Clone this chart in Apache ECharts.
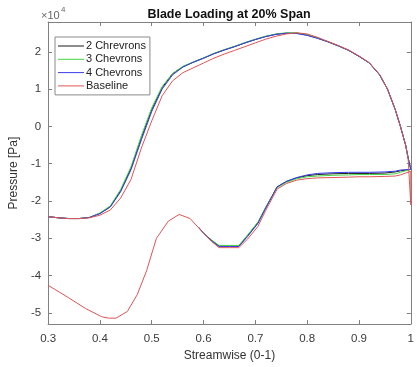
<!DOCTYPE html>
<html>
<head>
<meta charset="utf-8">
<script src="https://cdn.jsdelivr.net/npm/echarts@6/dist/echarts.min.js"></script>
<style>
html,body{margin:0;padding:0;background:#fff;}
#chart{width:417px;height:367px;}
</style>
</head>
<body>
<div id="chart"></div>
<script>
// Streamwise positions (upper branch, leading -> trailing edge)
const upperX = [0.30,0.32,0.34,0.36,0.38,0.40,0.42,0.44,0.46,0.48,0.50,0.52,0.54,0.56,0.58,0.60,0.62,0.64,0.66,0.68,0.70,0.72,0.74,0.76,0.78,0.80,0.82,0.84,0.86,0.88,0.90,0.92,0.94,0.955,0.97,0.98,0.99,0.995,1.00];
// Pressure (x10^4 Pa), upper branch
const chev2Upper = [-2.42,-2.45,-2.47,-2.47,-2.44,-2.33,-2.15,-1.72,-1.12,-0.30,0.45,1.04,1.41,1.60,1.72,1.83,1.95,2.05,2.14,2.24,2.33,2.41,2.47,2.50,2.50,2.45,2.37,2.27,2.16,2.04,1.88,1.70,1.38,1.00,0.45,0.00,-0.50,-0.85,-1.15];
const chev3Upper = [-2.42,-2.45,-2.47,-2.47,-2.44,-2.32,-2.13,-1.69,-1.08,-0.25,0.50,1.07,1.42,1.61,1.73,1.84,1.96,2.06,2.15,2.25,2.34,2.42,2.48,2.51,2.51,2.46,2.37,2.27,2.16,2.04,1.88,1.70,1.38,1.00,0.45,0.00,-0.50,-0.85,-1.15];
const chev4Upper = [-2.42,-2.45,-2.47,-2.47,-2.44,-2.34,-2.16,-1.75,-1.16,-0.36,0.40,1.00,1.38,1.59,1.72,1.83,1.95,2.05,2.14,2.24,2.33,2.41,2.47,2.50,2.49,2.44,2.36,2.27,2.16,2.04,1.88,1.70,1.38,1.00,0.45,0.00,-0.50,-0.85,-1.15];
const baseUpper  = [-2.42,-2.45,-2.47,-2.47,-2.45,-2.38,-2.24,-1.92,-1.42,-0.58,0.15,0.82,1.22,1.44,1.57,1.70,1.83,1.94,2.04,2.14,2.24,2.34,2.42,2.48,2.51,2.48,2.39,2.28,2.17,2.05,1.89,1.71,1.39,1.00,0.45,0.00,-0.50,-0.90,-2.10];

// Lower branch (trailing -> leading edge) for the chevron cases
const lowerX = [1.00,0.99,0.98,0.97,0.95,0.92,0.90,0.88,0.85,0.82,0.80,0.78,0.76,0.742,0.72,0.705,0.685,0.668,0.65,0.63,0.615,0.60,0.59];
const chev2Lower = [-1.15,-1.17,-1.19,-1.22,-1.25,-1.26,-1.26,-1.26,-1.27,-1.29,-1.32,-1.38,-1.48,-1.62,-2.18,-2.58,-2.93,-3.21,-3.21,-3.21,-3.05,-2.86,-2.70];
const chev3Lower = [-1.15,-1.19,-1.23,-1.27,-1.29,-1.29,-1.29,-1.30,-1.31,-1.33,-1.35,-1.40,-1.50,-1.64,-2.16,-2.56,-2.91,-3.19,-3.19,-3.19,-3.04,-2.86,-2.70];
const chev4Lower = [-1.15,-1.16,-1.17,-1.20,-1.22,-1.23,-1.23,-1.23,-1.24,-1.26,-1.30,-1.37,-1.47,-1.62,-2.19,-2.60,-2.95,-3.22,-3.22,-3.22,-3.06,-2.86,-2.70];

// Lower branch for the baseline
const baseLowerX = [1.00,0.99,0.98,0.97,0.95,0.92,0.90,0.88,0.85,0.82,0.80,0.78,0.76,0.742,0.72,0.705,0.685,0.668,0.65,0.63,0.615,0.60,0.574,0.553,0.532,0.509,0.49,0.472,0.453,0.431,0.416,0.403,0.372,0.338,0.30];
const baseLower  = [-1.20,-1.25,-1.30,-1.33,-1.34,-1.35,-1.35,-1.36,-1.37,-1.38,-1.40,-1.44,-1.53,-1.68,-2.25,-2.68,-3.02,-3.25,-3.25,-3.25,-3.08,-2.86,-2.47,-2.36,-2.54,-3.00,-3.87,-4.51,-4.96,-5.14,-5.14,-5.10,-4.88,-4.58,-4.26];

const seriesNames = ['2 Chrevrons','3 Chevrons','4 Chevrons','Baseline'];
const xTicks = [0.3,0.4,0.5,0.6,0.7,0.8,0.9,1.0];
const yTicks = [-5,-4,-3,-2,-1,0,1,2];

const pairs = (xs, ys) => xs.map((x, i) => [x, ys[i]]);
const lines = [
  pairs(upperX, chev2Upper).concat(pairs(lowerX, chev2Lower)),
  pairs(upperX, chev3Upper).concat(pairs(lowerX, chev3Lower)),
  pairs(upperX, chev4Upper).concat(pairs(lowerX, chev4Lower)),
  pairs(upperX, baseUpper).concat(pairs(baseLowerX, baseLower))
];
const colors = ['#1a1a1a','#44d444','#3b3bea','#e05555'];

const FONT = '"Liberation Sans", Arial, Helvetica, sans-serif';
const axisColor = '#808080';
const labelColor = '#3a3a3a';

const chart = echarts.init(document.getElementById('chart'), null, {renderer:'canvas'});
chart.setOption({
  animation: false,
  backgroundColor: '#fff',
  textStyle: {fontFamily: FONT},
  title: {
    text: 'Blade Loading at 20% Span',
    left: 229, top: 8, padding: 0, textAlign: 'center',
    textStyle: {fontSize: 12.5, fontWeight: 'bold', color: '#111', fontFamily: FONT}
  },
  grid: {left: 41, right: 1, top: 22, bottom: 40, containLabel: false},
  legend: {
    data: seriesNames,
    orient: 'vertical',
    left: 55, top: 37,
    padding: [3, 4, 3, 3],
    icon: 'rect',
    itemWidth: 26, itemHeight: 1, itemGap: 1.3,
    borderColor: '#8a8a8a', borderWidth: 1, backgroundColor: '#fff',
    textStyle: {fontSize: 11, lineHeight: 12, color: '#222', fontFamily: FONT, padding: [0, 0, 0, -3]}
  },
  xAxis: [{
    type: 'value', min: 0.3, max: 1.0, position: 'bottom',
    name: 'Streamwise (0-1)', nameLocation: 'middle', nameGap: 25,
    nameTextStyle: {fontSize: 12, color: '#333', fontFamily: FONT},
    axisLine: {show: true, onZero: false, lineStyle: {color: axisColor, width: 1}},
    axisTick: {show: true, inside: true, length: 4, lineStyle: {color: axisColor}, customValues: xTicks},
    axisLabel: {fontSize: 11.5, color: labelColor, margin: 9, customValues: xTicks,
      formatter: v => (Math.abs(v - 1) < 1e-9 ? '1' : v.toFixed(1))},
    splitLine: {show: false}
  }, {
    type: 'value', min: 0.3, max: 1.0, position: 'top',
    axisLine: {show: true, onZero: false, lineStyle: {color: axisColor, width: 1}},
    axisTick: {show: true, inside: true, length: 4, lineStyle: {color: axisColor}, customValues: xTicks},
    axisLabel: {show: false},
    splitLine: {show: false}
  }],
  yAxis: [{
    type: 'value', min: -5.3, max: 2.8, position: 'left',
    name: 'Pressure [Pa]', nameLocation: 'middle', nameGap: 15,
    nameTextStyle: {fontSize: 12, color: '#333', fontFamily: FONT},
    axisLine: {show: true, onZero: false, lineStyle: {color: axisColor, width: 1}},
    axisTick: {show: true, inside: true, length: 4, lineStyle: {color: axisColor}, customValues: yTicks},
    axisLabel: {fontSize: 11.5, color: labelColor, margin: 7, customValues: yTicks,
      formatter: v => String(Math.round(v))},
    splitLine: {show: false}
  }, {
    type: 'value', min: -5.3, max: 2.8, position: 'right',
    axisLine: {show: true, onZero: false, lineStyle: {color: axisColor, width: 1}},
    axisTick: {show: true, inside: true, length: 4, lineStyle: {color: axisColor}, customValues: yTicks},
    axisLabel: {show: false},
    splitLine: {show: false}
  }],
  graphic: [{
    type: 'text', left: 41, top: 10, z: 100,
    style: {text: '×10', fontSize: 11, fill: '#666', fontFamily: FONT}
  }, {
    type: 'text', left: 61, top: 6, z: 100,
    style: {text: '4', fontSize: 8, fill: '#666', fontFamily: FONT}
  }],
  series: lines.map((d, i) => ({
    name: seriesNames[i],
    type: 'line',
    data: d,
    symbol: 'none',
    showSymbol: false,
    smooth: false,
    clip: true,
    lineStyle: {color: colors[i], width: 1},
    itemStyle: {color: colors[i]},
    z: 2 + i
  }))
});
</script>
</body>
</html>
